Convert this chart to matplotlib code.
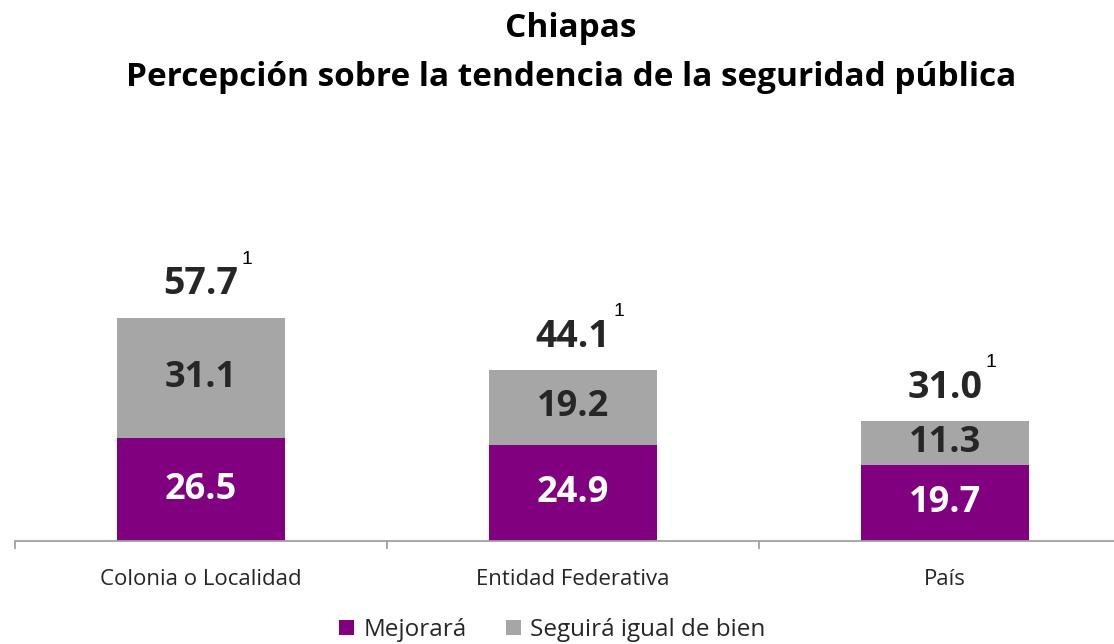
import matplotlib.pyplot as plt
import numpy as np

plt.rcParams['font.family'] = ['Open Sans', 'DejaVu Sans']

categorias = ['Colonia o Localidad', 'Entidad Federativa', 'País']
mejorara = [26.5, 24.9, 19.7]
seguira_igual = [31.1, 19.2, 11.3]
totales = [57.7, 44.1, 31.0]
nombres = ['Mejorará', 'Seguirá igual de bien']

morado = '#800080'
gris = '#A6A6A6'
texto = '#262626'

fig = plt.figure(figsize=(11.14, 6.44), dpi=100)
ax = fig.add_axes([15 / 1114, 103 / 644, 1116 / 1114, 271 / 644])

x = np.arange(len(categorias))
ancho = 0.454
b1 = ax.bar(x, mejorara, ancho, color=morado, label=nombres[0])
b2 = ax.bar(x, seguira_igual, ancho, bottom=mejorara, color=gris, label=nombres[1])

# etiquetas dentro de las barras
for i in range(len(x)):
    ax.text(x[i], mejorara[i] / 2, f'{mejorara[i]:.1f}', ha='center', va='center',
            color='white', fontsize=26, fontweight='bold')
    ax.text(x[i], mejorara[i] + seguira_igual[i] / 2, f'{seguira_igual[i]:.1f}',
            ha='center', va='center', color=texto, fontsize=26, fontweight='bold')
    # total arriba + superindice
    ax.annotate(f'{totales[i]:.1f}', (x[i], totales[i]), xytext=(0, 24),
                textcoords='offset points', ha='center', va='center',
                color=texto, fontsize=27, fontweight='bold')
    ax.annotate('1', (x[i], totales[i]), xytext=(33, 42),
                textcoords='offset points', ha='center', va='center',
                color='black', fontsize=14, family='Liberation Sans')

ax.set_xlim(-0.5, 2.5)
ax.set_ylim(0, 70)
ax.set_yticks([])
ax.set_xticks([-0.5, 0.5, 1.5, 2.5], minor=False)
ax.set_xticklabels([])
ax.tick_params(axis='x', length=6, color='#A0A0A0', width=1.3)
ax.set_xticks(x, minor=True)
ax.set_xticklabels(categorias, minor=True)
ax.tick_params(axis='x', which='minor', length=0, pad=20, labelsize=16, labelcolor=texto)
for s in ['top', 'right', 'left']:
    ax.spines[s].set_visible(False)
ax.spines['bottom'].set_color('#A0A0A0')
ax.spines['bottom'].set_linewidth(1.3)

fig.text(0.5126, 0.955, 'Chiapas', ha='center', va='center',
         fontsize=24, fontweight='bold', color='black')
fig.text(0.5126, 0.880, 'Percepción sobre la tendencia de la seguridad pública',
         ha='center', va='center', fontsize=24, fontweight='bold', color='black')

fig.legend(handles=[b1, b2], loc='center', bbox_to_anchor=(0.496, 0.022), ncol=2,
           frameon=False, fontsize=17.5, handlelength=0.6, handleheight=0.6,
           handletextpad=0.4, columnspacing=1.6, labelcolor=texto)

fig.savefig('out.png', dpi=100)
